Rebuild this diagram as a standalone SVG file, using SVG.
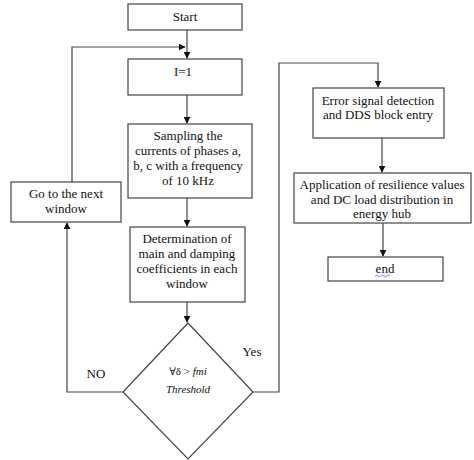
<svg xmlns="http://www.w3.org/2000/svg" width="474" height="460" viewBox="0 0 474 460">
<style>
.box{fill:#fff;stroke:#444;stroke-width:1.2}
.t{font-family:'Liberation Serif','Times New Roman',Tinos,'DejaVu Serif',serif;font-size:13px;fill:#111;text-anchor:middle}
.ln{fill:none;stroke:#444;stroke-width:1.2}
</style>
<defs>
<marker id="ah" viewBox="0 0 10 10" refX="9" refY="5" markerWidth="7" markerHeight="7" orient="auto" markerUnits="userSpaceOnUse">
<path d="M0,0L10,5L0,10z" fill="#111"/>
</marker>
</defs>
<rect width="474" height="460" fill="#fff"/>
<g id="connectors">
<line class="ln" x1="187" y1="30" x2="187" y2="58" marker-end="url(#ah)"/>
<polyline class="ln" points="72,182 72,47 185,47" marker-end="url(#ah)"/>
<line class="ln" x1="187" y1="95" x2="187" y2="123" marker-end="url(#ah)"/>
<line class="ln" x1="187" y1="198" x2="187" y2="226" marker-end="url(#ah)"/>
<line class="ln" x1="187" y1="302" x2="187" y2="322" marker-end="url(#ah)"/>
<polyline class="ln" points="123,392 67,392 67,223" marker-end="url(#ah)"/>
<polyline class="ln" points="253,392 279,392 279,63 378,63 378,87" marker-end="url(#ah)"/>
<line class="ln" x1="382" y1="138" x2="382" y2="172" marker-end="url(#ah)"/>
<line class="ln" x1="383" y1="223" x2="383" y2="256" marker-end="url(#ah)"/>
<text class="t" x="96" y="378" font-family="Liberation Serif, serif">NO</text>
<text class="t" x="252" y="356" font-family="Liberation Serif, serif">Yes</text>
</g>
<g id="start">
<rect class="box" x="128" y="4" width="114" height="26"/>
<text class="t" x="185" y="21">Start</text>
</g>
<g id="init">
<rect class="box" x="128" y="59" width="114" height="36"/>
<text class="t" x="183" y="76">I=1</text>
</g>
<g id="sampling">
<rect class="box" x="128" y="124" width="124" height="74"/>
<text class="t" x="188" y="140">Sampling the</text>
<text class="t" x="188" y="155">currents of phases a,</text>
<text class="t" x="188" y="170">b, c with a frequency</text>
<text class="t" x="188" y="185">of 10 kHz</text>
</g>
<g id="determination">
<rect class="box" x="130" y="227" width="115" height="75"/>
<text class="t" x="187" y="243">Determination of</text>
<text class="t" x="187" y="258">main and damping</text>
<text class="t" x="187" y="273">coefficients in each</text>
<text class="t" x="187" y="288">window</text>
</g>
<g id="decision">
<polygon class="box" points="188,323 253,392 188,459 123,392"/>
<text class="t" x="188" y="375" style="font-size:11px">∀δ &gt; <tspan font-style="italic">fmi</tspan></text>
<text class="t" x="188" y="393" style="font-size:11px;font-style:italic">Threshold</text>
</g>
<g id="next">
<rect class="box" x="11" y="182" width="110" height="40"/>
<text class="t" x="66" y="198">Go to the next</text>
<text class="t" x="66" y="213">window</text>
</g>
<g id="error">
<rect class="box" x="313" y="88" width="131" height="50"/>
<text class="t" x="378" y="105">Error signal detection</text>
<text class="t" x="378" y="119">and DDS block entry</text>
</g>
<g id="application">
<rect class="box" x="294" y="173" width="177" height="50"/>
<text class="t" x="382" y="189">Application of resilience values</text>
<text class="t" x="382" y="204">and DC load distribution in</text>
<text class="t" x="382" y="218">energy hub</text>
</g>
<g id="end">
<rect class="box" x="328" y="257" width="115" height="24"/>
<text class="t" x="385" y="273">end</text>
<path d="M375,276 q1.5,-1.5 3,0 t3,0 t3,0 t3,0 t3,0" fill="none" stroke="#4a6fd8" stroke-width="0.8"/>
</g>
</svg>
